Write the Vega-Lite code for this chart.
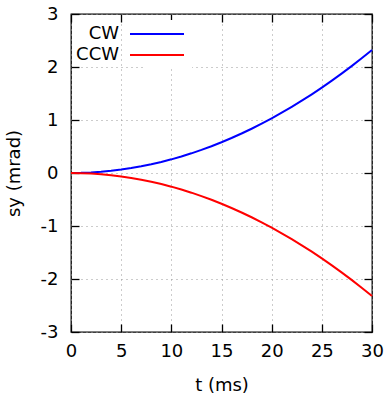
{
  "$schema": "https://vega.github.io/schema/vega-lite/v6.json",
  "width": 301,
  "height": 318,
  "autosize": {"type": "none"},
  "padding": {"left": 71, "top": 14, "right": 15, "bottom": 63},
  "background": "white",
  "config": {
    "font": "DejaVu Sans",
    "view": {"stroke": "black", "strokeWidth": 1.3},
    "axis": {
      "domain": false,
      "grid": true,
      "gridColor": "#999999",
      "gridDash": [1, 4],
      "gridWidth": 1,
      "tickColor": "black",
      "tickSize": -8,
      "tickWidth": 1.3,
      "labelFontSize": 18,
      "labelColor": "black",
      "labelFlush": false,
      "titleFontSize": 18,
      "titleFontWeight": "normal",
      "titleColor": "black"
    }
  },
  "data": {
    "values": [
      {"t": 0, "s": 0, "series": "CW"},
      {"t": 1, "s": 0.0026, "series": "CW"},
      {"t": 2, "s": 0.0103, "series": "CW"},
      {"t": 3, "s": 0.0232, "series": "CW"},
      {"t": 4, "s": 0.0412, "series": "CW"},
      {"t": 5, "s": 0.0645, "series": "CW"},
      {"t": 6, "s": 0.0928, "series": "CW"},
      {"t": 7, "s": 0.1263, "series": "CW"},
      {"t": 8, "s": 0.165, "series": "CW"},
      {"t": 9, "s": 0.2088, "series": "CW"},
      {"t": 10, "s": 0.2578, "series": "CW"},
      {"t": 11, "s": 0.3119, "series": "CW"},
      {"t": 12, "s": 0.3712, "series": "CW"},
      {"t": 13, "s": 0.4357, "series": "CW"},
      {"t": 14, "s": 0.5053, "series": "CW"},
      {"t": 15, "s": 0.5801, "series": "CW"},
      {"t": 16, "s": 0.66, "series": "CW"},
      {"t": 17, "s": 0.745, "series": "CW"},
      {"t": 18, "s": 0.8353, "series": "CW"},
      {"t": 19, "s": 0.9307, "series": "CW"},
      {"t": 20, "s": 1.0312, "series": "CW"},
      {"t": 21, "s": 1.1369, "series": "CW"},
      {"t": 22, "s": 1.2478, "series": "CW"},
      {"t": 23, "s": 1.3638, "series": "CW"},
      {"t": 24, "s": 1.4849, "series": "CW"},
      {"t": 25, "s": 1.6113, "series": "CW"},
      {"t": 26, "s": 1.7427, "series": "CW"},
      {"t": 27, "s": 1.8794, "series": "CW"},
      {"t": 28, "s": 2.0212, "series": "CW"},
      {"t": 29, "s": 2.1682, "series": "CW"},
      {"t": 30, "s": 2.3202, "series": "CW"},
      {"t": 0, "s": 0, "series": "CCW"},
      {"t": 1, "s": -0.0026, "series": "CCW"},
      {"t": 2, "s": -0.0103, "series": "CCW"},
      {"t": 3, "s": -0.0232, "series": "CCW"},
      {"t": 4, "s": -0.0412, "series": "CCW"},
      {"t": 5, "s": -0.0645, "series": "CCW"},
      {"t": 6, "s": -0.0928, "series": "CCW"},
      {"t": 7, "s": -0.1263, "series": "CCW"},
      {"t": 8, "s": -0.165, "series": "CCW"},
      {"t": 9, "s": -0.2088, "series": "CCW"},
      {"t": 10, "s": -0.2578, "series": "CCW"},
      {"t": 11, "s": -0.3119, "series": "CCW"},
      {"t": 12, "s": -0.3712, "series": "CCW"},
      {"t": 13, "s": -0.4357, "series": "CCW"},
      {"t": 14, "s": -0.5053, "series": "CCW"},
      {"t": 15, "s": -0.5801, "series": "CCW"},
      {"t": 16, "s": -0.66, "series": "CCW"},
      {"t": 17, "s": -0.745, "series": "CCW"},
      {"t": 18, "s": -0.8353, "series": "CCW"},
      {"t": 19, "s": -0.9307, "series": "CCW"},
      {"t": 20, "s": -1.0312, "series": "CCW"},
      {"t": 21, "s": -1.1369, "series": "CCW"},
      {"t": 22, "s": -1.2478, "series": "CCW"},
      {"t": 23, "s": -1.3638, "series": "CCW"},
      {"t": 24, "s": -1.4849, "series": "CCW"},
      {"t": 25, "s": -1.6113, "series": "CCW"},
      {"t": 26, "s": -1.7427, "series": "CCW"},
      {"t": 27, "s": -1.8794, "series": "CCW"},
      {"t": 28, "s": -2.0212, "series": "CCW"},
      {"t": 29, "s": -2.1682, "series": "CCW"},
      {"t": 30, "s": -2.3202, "series": "CCW"}
    ]
  },
  "layer": [
    {
      "mark": {"type": "line", "strokeWidth": 2},
      "encoding": {
        "x": {
          "field": "t", "type": "quantitative",
          "scale": {"domain": [0, 30], "nice": false, "zero": false},
          "axis": {"values": [0, 5, 10, 15, 20, 25, 30], "title": "t (ms)", "labelPadding": 18, "titlePadding": 16}
        },
        "y": {
          "field": "s", "type": "quantitative",
          "scale": {"domain": [-3, 3], "nice": false},
          "axis": {
            "values": [-3, -2, -1, 0, 1, 2, 3],
            "labelExpr": "datum.value < 0 ? '-' + abs(datum.value) : '' + datum.value",
            "title": "sy (mrad)", "labelPadding": 21, "titlePadding": 17
          }
        },
        "color": {
          "field": "series", "type": "nominal",
          "scale": {"domain": ["CW", "CCW"], "range": ["#0000ff", "#ff0000"]},
          "legend": {
            "title": null,
            "orient": "none",
            "legendX": 72,
            "legendY": 6,
            "symbolType": "M-3,0H3",
            "symbolSize": 324,
            "symbolStrokeWidth": 2,
            "labelAlign": "right",
            "labelOffset": -48,
            "labelFontSize": 18,
            "labelColor": "black",
            "rowPadding": 2,
            "padding": 4,
            "fillColor": "white"
          }
        }
      }
    },
    {
      "mark": {"type": "line", "opacity": 0},
      "encoding": {
        "x": {"field": "t", "type": "quantitative", "axis": {"orient": "top", "values": [0, 5, 10, 15, 20, 25, 30], "labels": false, "grid": false, "title": null}},
        "y": {"field": "s", "type": "quantitative", "axis": {"orient": "right", "values": [-3, -2, -1, 0, 1, 2, 3], "labels": false, "grid": false, "title": null}},
        "detail": {"field": "series"}
      }
    }
  ],
  "resolve": {"axis": {"x": "independent", "y": "independent"}}
}
